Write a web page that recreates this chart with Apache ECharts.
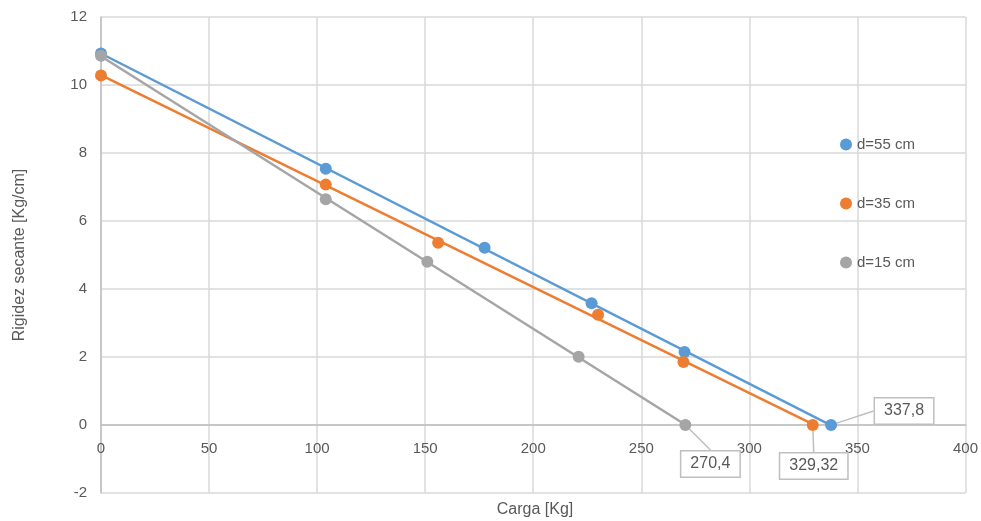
<!DOCTYPE html>
<html>
<head>
<meta charset="utf-8">
<script src="https://cdn.jsdelivr.net/npm/echarts@6/dist/echarts.min.js"></script>
<style>
  html, body { margin: 0; padding: 0; background: #fff; }
  #chart { width: 981px; height: 521px; }
</style>
</head>
<body>
<div id="chart"></div>
<script>
// valores
const d55 = [[0, 10.93], [104, 7.54], [177.5, 5.21], [227, 3.58], [270, 2.15], [337.8, 0]]
const d35 = [[0, 10.28], [104, 7.07], [156, 5.36], [230, 3.24], [269.5, 1.85], [329.32, 0]]
const d15 = [[0, 10.86], [104, 6.64], [151, 4.8], [221, 2.01], [270.4, 0]]
const names = ['d=55 cm', 'd=35 cm', 'd=15 cm']
const colors = ['#5B9BD5', '#ED7D31', '#A5A5A5']
// desplazamiento de las etiquetas de corte con el eje
const labelShift = [[73, -14], [1, 41], [25, 39]]

const font = 'Liberation Sans'
const txt = '#595959'

// recta de tendencia lineal (mínimos cuadrados)
const trend = pts => {
    let n = pts.length, sx = 0, sy = 0, sxx = 0, sxy = 0
    pts.forEach(p => { sx += p[0]; sy += p[1]; sxx += p[0] * p[0]; sxy += p[0] * p[1] })
    let b = (n * sxy - sx * sy) / (n * sxx - sx * sx)
    let a = (sy - b * sx) / n
    let x0 = pts[0][0], x1 = pts[n - 1][0]
    return [[x0, a + b * x0], [x1, a + b * x1]]
}

const buildSeries = () => {
    let out = []
    ;[d55, d35, d15].forEach((pts, i) => {
        out.push({
            name: names[i] + ' tendencia',
            type: 'line',
            data: trend(pts),
            symbol: 'none',
            silent: true,
            z: 2,
            lineStyle: { color: colors[i], width: 2.5 }
        })
        out.push({
            name: names[i],
            type: 'scatter',
            symbol: 'circle',
            symbolSize: 12,
            z: 3,
            itemStyle: { color: colors[i], opacity: 1 },
            data: pts.map((p, k) => k === pts.length - 1 ? {
                value: p,
                label: {
                    show: true,
                    formatter: String(p[0]).replace('.', ','),
                    fontFamily: font,
                    fontSize: 16,
                    color: txt,
                    backgroundColor: '#fff',
                    borderColor: '#bfbfbf',
                    borderWidth: 1.5,
                    padding: [5, 9, 4, 9]
                }
            } : p),
            labelLine: { show: true, lineStyle: { color: '#bfbfbf', width: 1.5 } },
            labelLayout: () => ({ dx: labelShift[i][0], dy: labelShift[i][1] })
        })
    })
    return out
}

const option = {
    animation: false,
    textStyle: { fontFamily: font },
    grid: { left: 101, right: 14, top: 17, bottom: 28, containLabel: false },
    legend: {
        data: names.map(n => ({ name: n, icon: 'circle' })),
        orient: 'vertical',
        left: 835,
        top: 132,
        itemGap: 43,
        itemWidth: 12,
        itemHeight: 12,
        itemGap: 44,
        textStyle: { fontFamily: font, fontSize: 15, color: txt }
    },
    xAxis: {
        type: 'value',
        min: 0,
        max: 400,
        interval: 50,
        axisLine: { onZero: true, lineStyle: { color: '#bfbfbf', width: 1.5 } },
        axisTick: { show: false },
        // etiquetas junto a la línea del cero
        axisLabel: { color: txt, fontSize: 15, fontFamily: font, margin: -52 },
        splitLine: { show: true, lineStyle: { color: '#d9d9d9', width: 1.5 } }
    },
    yAxis: {
        type: 'value',
        min: -2,
        max: 12,
        interval: 2,
        axisLine: { show: true, onZero: false, lineStyle: { color: '#bfbfbf', width: 1.5 } },
        axisTick: { show: false },
        axisLabel: { color: txt, fontSize: 15, fontFamily: font, margin: 14 },
        splitLine: { show: true, lineStyle: { color: '#d9d9d9', width: 1.5 } }
    },
    graphic: [
        {
            type: 'text',
            x: 535,
            y: 510,
            style: {
                text: 'Carga [Kg]',
                fill: txt,
                font: '16px ' + font,
                textAlign: 'center',
                textVerticalAlign: 'middle'
            }
        },
        {
            type: 'text',
            x: 20,
            y: 255,
            rotation: Math.PI / 2,
            style: {
                text: 'Rigidez secante [Kg/cm]',
                fill: txt,
                font: '16px ' + font,
                textAlign: 'center',
                textVerticalAlign: 'middle'
            }
        }
    ],
    series: buildSeries()
}

const chart = echarts.init(document.getElementById('chart'))
chart.setOption(option)
</script>
</body>
</html>
